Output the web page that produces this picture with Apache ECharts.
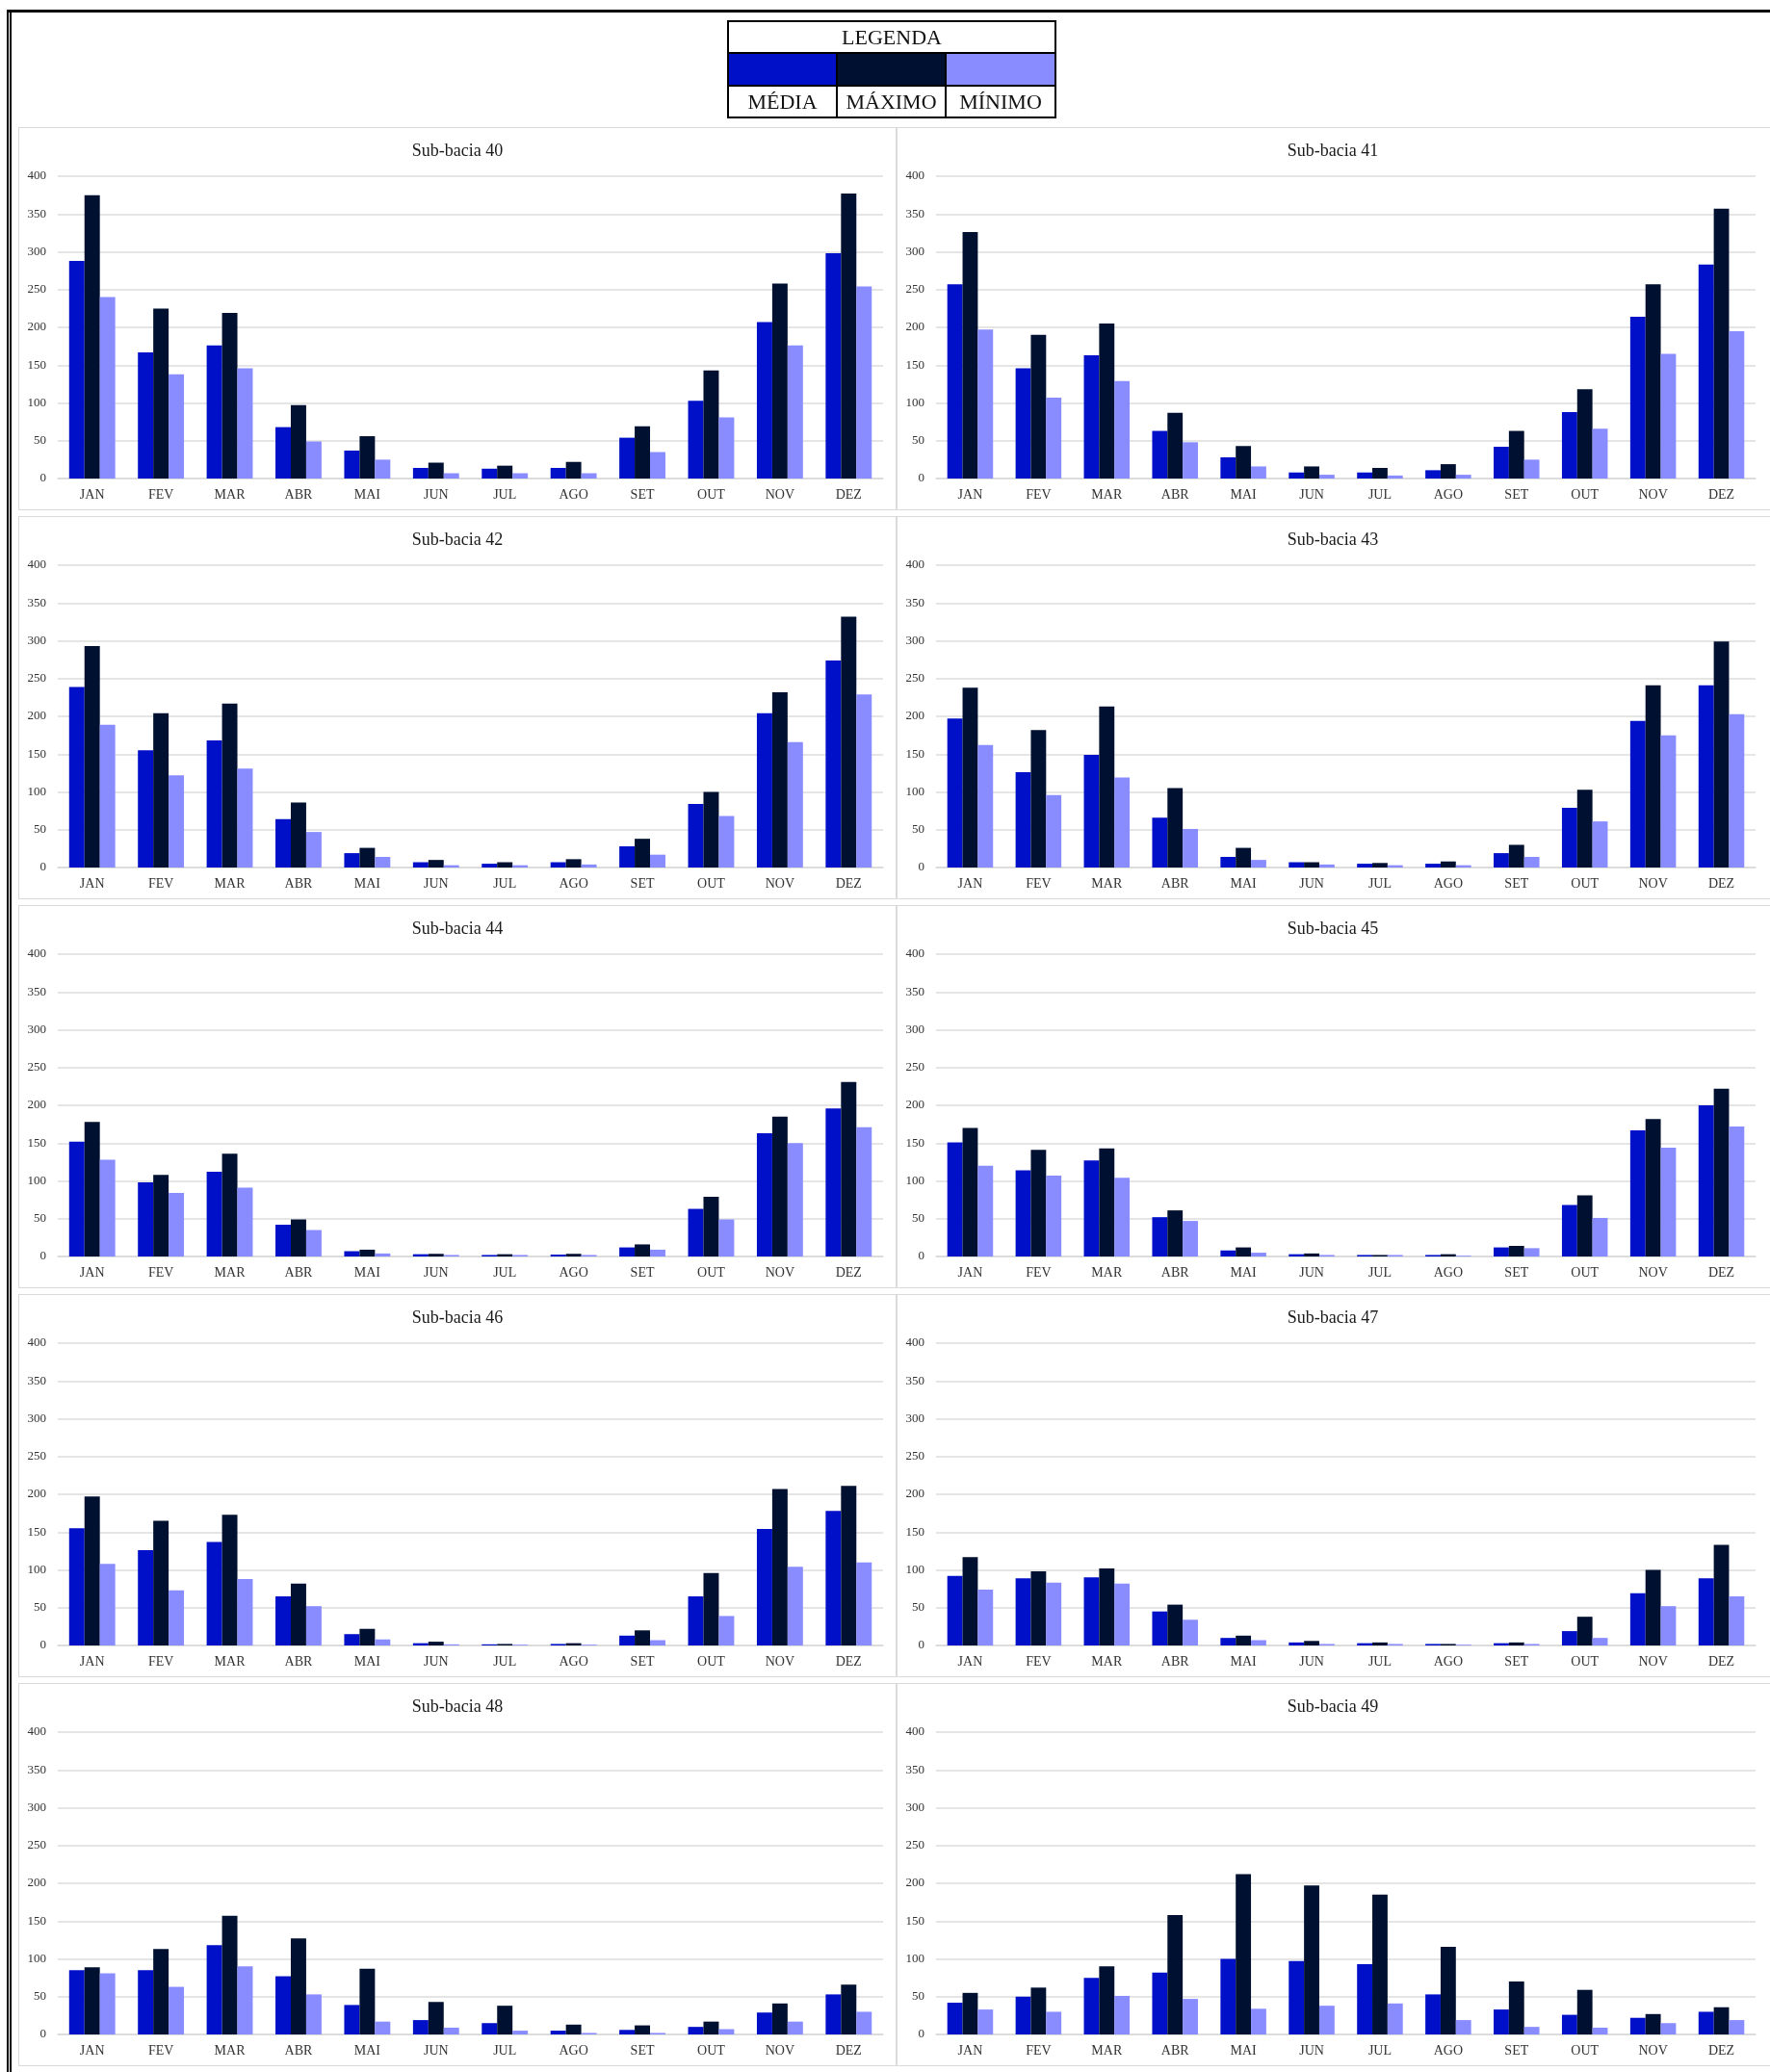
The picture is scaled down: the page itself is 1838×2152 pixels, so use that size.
<!DOCTYPE html>
<html>
<head>
<meta charset="utf-8">
<script src="https://cdn.jsdelivr.net/npm/echarts@6/dist/echarts.min.js"></script>
<style>
  html, body { margin: 0; padding: 0; background: #fff; }
  #wrap { position: relative; width: 1838px; height: 2152px; overflow: hidden; background: #fff; }
  #chart { position: absolute; left: 0; top: 0; width: 1838px; height: 2152px; }
  .topline { position: absolute; left: 7px; top: 10px; width: 1831px; height: 3px; background: #000; }
  .leftline { position: absolute; left: 7px; top: 10px; width: 0; height: 2142px; border-left: 5px double #000; }
  .panel { position: absolute; border: 1px solid #dadada; box-sizing: border-box; pointer-events: none; }
  #legend { position: absolute; left: 755px; top: 21px; border-collapse: collapse; font-family: "Liberation Serif", serif; font-size: 22px; color: #111; }
  #legend td { border: 2px solid #000; padding: 0; text-align: center; }
</style>
</head>
<body>
<div id="wrap">
  <div id="chart"></div>
  <div class="topline"></div>
  <div class="leftline"></div>
  <table id="legend">
    <tr><td colspan="3" style="height:31px;line-height:31px;">LEGENDA</td></tr>
    <tr>
      <td id="c1" style="width:111px;height:32px;"></td>
      <td id="c2" style="width:111px;height:32px;"></td>
      <td id="c3" style="width:112px;height:32px;"></td>
    </tr>
    <tr><td style="height:31px;line-height:31px;">MÉDIA</td><td style="height:31px;line-height:31px;">MÁXIMO</td><td style="height:31px;line-height:31px;">MÍNIMO</td></tr>
  </table>
</div>
<script>
// ---------------- DATA ----------------
const months = ['JAN','FEV','MAR','ABR','MAI','JUN','JUL','AGO','SET','OUT','NOV','DEZ'];
const seriesNames = ['MÉDIA','MÁXIMO','MÍNIMO'];
const yTicks = [0, 50, 100, 150, 200, 250, 300, 350, 400];

const media40  = [288, 167, 176, 68, 37, 14, 13, 14, 54, 103, 207, 298];
const maximo40 = [375, 225, 219, 97, 56, 21, 17, 22, 69, 143, 258, 377];
const minimo40 = [240, 138, 146, 49, 25, 7, 7, 7, 35, 81, 176, 254];

const media41  = [257, 146, 163, 63, 28, 8, 8, 11, 42, 88, 214, 283];
const maximo41 = [326, 190, 205, 87, 43, 16, 14, 19, 63, 118, 257, 357];
const minimo41 = [197, 107, 129, 48, 16, 5, 4, 5, 25, 66, 165, 195];

const media42  = [239, 155, 168, 64, 19, 7, 5, 7, 28, 84, 204, 274];
const maximo42 = [293, 204, 217, 86, 26, 10, 7, 11, 38, 100, 232, 332];
const minimo42 = [189, 122, 131, 47, 14, 3, 3, 4, 17, 68, 166, 229];

const media43  = [197, 126, 149, 66, 14, 7, 5, 5, 19, 79, 194, 241];
const maximo43 = [238, 182, 213, 105, 26, 7, 6, 8, 30, 103, 241, 299];
const minimo43 = [162, 96, 119, 51, 10, 4, 3, 3, 14, 61, 175, 203];

const media44  = [152, 98, 112, 42, 7, 3, 2, 2.5, 12, 63, 163, 196];
const maximo44 = [178, 108, 136, 49, 9, 3.5, 3, 3.5, 16, 79, 185, 231];
const minimo44 = [128, 84, 91, 35, 4, 2, 2, 2, 9, 49, 150, 171];

const media45  = [151, 114, 127, 52, 8, 3, 2, 2, 12, 68, 167, 200];
const maximo45 = [170, 141, 143, 61, 12, 4, 2, 3, 14, 81, 182, 222];
const minimo45 = [120, 107, 104, 47, 5, 2, 2, 1, 11, 51, 144, 172];

const media46  = [155, 126, 137, 65, 15, 3, 1.5, 2, 13, 65, 154, 178];
const maximo46 = [197, 165, 173, 82, 22, 5, 2, 3, 20, 96, 207, 211];
const minimo46 = [108, 73, 88, 52, 8, 1.5, 1, 1, 7, 39, 104, 110];

const media47  = [92, 89, 90, 45, 10, 4, 3, 2, 3, 19, 69, 89];
const maximo47 = [117, 98, 102, 54, 13, 6, 4, 2, 4, 38, 100, 133];
const minimo47 = [74, 83, 82, 34, 7, 2, 2, 1, 2, 10, 52, 65];

const media48  = [85, 85, 118, 77, 39, 19, 15, 5, 6, 10, 29, 53];
const maximo48 = [89, 113, 157, 127, 87, 43, 38, 13, 12, 17, 41, 66];
const minimo48 = [81, 63, 90, 53, 17, 9, 5, 2, 2, 7, 17, 30];

const media49  = [42, 50, 75, 82, 100, 97, 93, 53, 33, 26, 22, 30];
const maximo49 = [55, 62, 90, 158, 212, 197, 185, 116, 70, 59, 27, 36];
const minimo49 = [33, 30, 51, 47, 34, 38, 41, 19, 10, 9, 15, 19];

const panelTitles = ['Sub-bacia 40','Sub-bacia 41','Sub-bacia 42','Sub-bacia 43','Sub-bacia 44',
                     'Sub-bacia 45','Sub-bacia 46','Sub-bacia 47','Sub-bacia 48','Sub-bacia 49'];
const panelData = [
  [media40, maximo40, minimo40], [media41, maximo41, minimo41],
  [media42, maximo42, minimo42], [media43, maximo43, minimo43],
  [media44, maximo44, minimo44], [media45, maximo45, minimo45],
  [media46, maximo46, minimo46], [media47, maximo47, minimo47],
  [media48, maximo48, minimo48], [media49, maximo49, minimo49]
];

// ---------------- STYLE / LAYOUT ----------------
const colors = ['#0010c8', '#001030', '#888cff'];
document.getElementById('c1').style.background = colors[0];
document.getElementById('c2').style.background = colors[1];
document.getElementById('c3').style.background = colors[2];

const FONT = '"Liberation Serif", "Times New Roman", serif';
const ROW_STEP = 404;
const colGeom = [
  { gridLeft: 60, gridWidth: 857, panelLeft: 19, panelWidth: 912, titleX: 470 },
  { gridLeft: 972, gridWidth: 851, panelLeft: 931, panelWidth: 910, titleX: 1379 }
];

const wrap = document.getElementById('wrap');
const grids = [], xAxes = [], yAxes = [], series = [], titles = [];

panelTitles.forEach((t, i) => {
  const row = Math.floor(i / 2), col = i % 2;
  const g = colGeom[col];
  const top = 183 + ROW_STEP * row;

  const p = document.createElement('div');
  p.className = 'panel';
  p.style.left = g.panelLeft + 'px';
  p.style.top = (132 + ROW_STEP * row) + 'px';
  p.style.width = g.panelWidth + 'px';
  p.style.height = '398px';
  wrap.appendChild(p);

  grids.push({ left: g.gridLeft, top: top, width: g.gridWidth, height: 314, containLabel: false });
  titles.push({
    text: t, left: g.titleX, top: top - 40, textAlign: 'center',
    textStyle: { fontFamily: FONT, fontSize: 18, fontWeight: 'normal', color: '#1a1a1a' }
  });
  xAxes.push({
    type: 'category', gridIndex: i, data: months,
    axisTick: { show: false },
    axisLine: { show: true, lineStyle: { color: '#d9d9d9', width: 1.5 } },
    axisLabel: { fontFamily: FONT, fontSize: 14, color: '#333', margin: 10 }
  });
  yAxes.push({
    type: 'value', gridIndex: i, min: 0, max: 400, interval: 50,
    axisLine: { show: false }, axisTick: { show: false },
    splitLine: { lineStyle: { color: '#dcdcdc', width: 1.5 } },
    axisLabel: { fontFamily: FONT, fontSize: 13, color: '#333', margin: 12,
      formatter: v => (yTicks.indexOf(v) >= 0 ? String(v) : '') }
  });
  panelData[i].forEach((arr, s) => {
    series.push({
      type: 'bar', name: seriesNames[s], xAxisIndex: i, yAxisIndex: i, data: arr,
      itemStyle: { color: colors[s] },
      barGap: '0%', barCategoryGap: '33%',
      animation: false
    });
  });
});

const chart = echarts.init(document.getElementById('chart'), null, { renderer: 'canvas' });
chart.setOption({
  animation: false,
  backgroundColor: 'transparent',
  title: titles,
  grid: grids,
  xAxis: xAxes,
  yAxis: yAxes,
  series: series
});
</script>
</body>
</html>
